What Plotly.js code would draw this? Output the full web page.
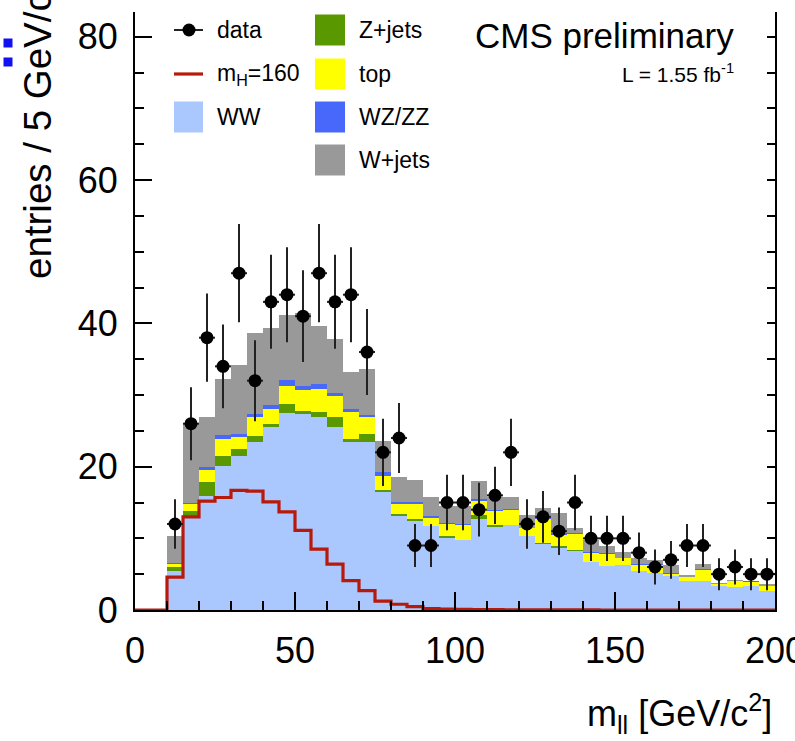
<!DOCTYPE html>
<html><head><meta charset="utf-8">
<script src="https://cdn.plot.ly/plotly-3.0.1.min.js"></script>
<style>html,body{margin:0;padding:0;background:#fff}#chart{width:795px;height:741px}</style>
</head><body><div id="chart"></div>
<script>
// ---- data (5 GeV bins, lower edges) ----
const binWidth = 5;
const binLow = [0,5,10,15,20,25,30,35,40,45,50,55,60,65,70,75,80,85,90,95,100,105,110,115,120,125,130,135,140,145,150,155,160,165,170,175,180,185,190,195];
const ww    = [0,0,5.4,13.1,15.9,20.1,21.5,23.5,25.6,27.5,27.3,26.9,25.5,23.4,23.4,16.4,13.1,12.4,11.7,10.1,9.7,12.7,11.6,11.8,10.3,9.2,8.7,8.3,6.7,6.1,6.3,5.5,5.1,4.7,4.05,4.1,3.35,3.2,3.35,2.6];
const zjets = [0,0,0.6,0.7,1.9,1.4,0.9,0.8,0.4,1.2,0.5,0.7,1.4,0.4,1.2,0.4,0.3,0.3,0,0.2,0,0.5,0.3,0.1,0,0.2,0.2,0.1,0,0,0,0,0,0,0,0,0,0.05,0,0];
const ttbar = [0,0,0.4,1.0,1.8,2.3,1.7,2.6,2.1,2.6,2.9,3.3,3.0,3.8,2.3,1.9,1.4,2.1,1.2,1.7,2.2,2.0,1.9,2.0,1.1,3.3,1.6,2.2,1.3,1.7,0.9,0.8,1.2,0.3,0.5,1.5,0.25,0.75,0.6,0.7];
const wzzz  = [0,0,0.1,0.2,0.4,0.6,0.5,0.4,0.5,0.8,0.6,0.7,0.4,0.4,0.3,0.5,0.3,0.3,0.2,0.2,0.15,0.3,0.2,0.2,0.1,0.2,0.2,0.2,0.1,0.1,0.1,0.1,0.1,0.1,0.05,0.1,0.05,0.1,0.05,0.05];
const wjets = [0,0,3.8,10.9,7.0,7.8,9.6,11.3,10.7,9.0,10.2,8.1,7.5,5.2,6.4,4.4,3.5,3.0,2.6,2.3,2.45,2.5,1.8,1.7,1.7,1.3,2.9,0.6,1.6,1.0,0.8,0.9,0.6,1.2,0.3,0.7,0.15,0.1,0.05,0.25];
const higgs = [0,0,4.6,13.0,15.2,15.7,16.7,16.6,15.1,13.7,11.1,8.5,6.4,4.1,2.7,1.25,0.8,0.47,0.2,0.12,0.08,0.05,0.04,0.03,0.02,0.02,0.01,0.01,0.01,0,0,0,0,0,0,0,0,0,0,0];
const dataCounts = [0,0,12,26,38,34,47,32,43,44,41,47,43,44,36,22,24,9,9,15,15,14,16,22,12,13,11,15,10,10,10,8,6,7,9,9,5,6,5,5];

const xTicks = [0,50,100,150,200];
const yTicks = [0,20,40,60,80];

const names  = {data:'data', higgs:'m<sub>H</sub>=160', ww:'WW', zjets:'Z+jets', ttbar:'top', wzzz:'WZ/ZZ', wjets:'W+jets'};
const colors = {ww:'#aac8fd', zjets:'#5a9800', ttbar:'#ffff00', wzzz:'#4868fc', wjets:'#999999', higgs:'#b8190a', data:'#000000'};

// ---- geometry helpers ----
const FONT = 'Liberation Sans, Arial, sans-serif';
const L = 135, R = 775, T = 12, B = 610, W = 795, Hh = 741;
const PW = R - L, PH = B - T;
const px = x => (x - L) / PW;
const py = y => (B - y) / PH;
const yMax = 83.45;

const centers = binLow.map(v => v + binWidth / 2);

function barTrace(key, vals) {
  return {type:'bar', x:centers, y:vals, width:binWidth, name:names[key],
    marker:{color:colors[key], line:{width:0}}, showlegend:false, hoverinfo:'skip'};
}

const traces = [
  barTrace('ww', ww),
  barTrace('zjets', zjets),
  barTrace('ttbar', ttbar),
  barTrace('wzzz', wzzz),
  barTrace('wjets', wjets)
];

// Higgs step line
const hx = binLow.concat([binLow[binLow.length-1] + binWidth]);
const hy = higgs.concat([higgs[higgs.length-1]]);
traces.push({type:'scatter', mode:'lines', x:hx, y:hy, line:{shape:'hv', color:colors.higgs, width:3.2},
  name:names.higgs, showlegend:false, hoverinfo:'skip'});

// data points (non-empty bins)
const dIdx = dataCounts.map((v,i)=>i).filter(i => dataCounts[i] > 0);
traces.push({type:'scatter', mode:'markers', x:dIdx.map(i=>centers[i]), y:dIdx.map(i=>dataCounts[i]),
  marker:{color:'#000', size:13},
  error_y:{type:'data', array:dIdx.map(i=>Math.sqrt(dataCounts[i])), color:'#222', thickness:2, width:0},
  error_x:{type:'constant', value:binWidth/2, color:'#222', thickness:2, width:0},
  name:names.data, showlegend:false, hoverinfo:'skip'});

// helper trace for right mirrored axis
traces.push({type:'scatter', mode:'markers', x:[null], y:[null], yaxis:'y2', showlegend:false, hoverinfo:'skip'});

// ---- manual legend ----
const shapes = [], annotations = [];
const col1Sw = [174, 203], col2Sw = [315, 345];
const rows = [30, 74, 117, 160];
function swatch(col, row, key) {
  shapes.push({type:'rect', xref:'paper', yref:'paper', x0:px(col[0]), x1:px(col[1]),
    y0:py(rows[row]+15.5), y1:py(rows[row]-15.5), fillcolor:colors[key], line:{width:0}});
}
function legText(col, row, key) {
  annotations.push({xref:'paper', yref:'paper', x:px(col[1]+12), y:py(rows[row]), xanchor:'left', yanchor:'middle',
    text:names[key], showarrow:false, font:{family:FONT, size:23, color:'#000'}});
}
// data symbol
shapes.push({type:'line', xref:'paper', yref:'paper', x0:px(174), x1:px(203), y0:py(rows[0]), y1:py(rows[0]), line:{color:'#222', width:2}});
shapes.push({type:'circle', xref:'paper', yref:'paper', x0:px(189-6.5), x1:px(189+6.5), y0:py(rows[0]+6.5), y1:py(rows[0]-6.5), fillcolor:'#000', line:{width:0}});
legText(col1Sw, 0, 'data');
shapes.push({type:'line', xref:'paper', yref:'paper', x0:px(174), x1:px(203), y0:py(rows[1]), y1:py(rows[1]), line:{color:colors.higgs, width:3.2}});
legText(col1Sw, 1, 'higgs');
swatch(col1Sw, 2, 'ww'); legText(col1Sw, 2, 'ww');
swatch(col2Sw, 0, 'zjets'); legText(col2Sw, 0, 'zjets');
swatch(col2Sw, 1, 'ttbar'); legText(col2Sw, 1, 'ttbar');
swatch(col2Sw, 2, 'wzzz'); legText(col2Sw, 2, 'wzzz');
swatch(col2Sw, 3, 'wjets'); legText(col2Sw, 3, 'wjets');

// stray blue marks at top-left (as in reference)
shapes.push({type:'rect', xref:'paper', yref:'paper', x0:px(3.5), x1:px(12.5), y0:py(47.5), y1:py(38.5), fillcolor:'#1010f0', line:{width:0}});
shapes.push({type:'rect', xref:'paper', yref:'paper', x0:px(3.5), x1:px(12.5), y0:py(66.5), y1:py(57.5), fillcolor:'#1010f0', line:{width:0}});

// texts
annotations.push({xref:'paper', yref:'paper', x:px(736), y:py(36), xanchor:'right', yanchor:'middle',
  text:'CMS preliminary', showarrow:false, font:{family:FONT, size:35, color:'#000'}});
annotations.push({xref:'paper', yref:'paper', x:px(736), y:py(73), xanchor:'right', yanchor:'middle',
  text:'L = 1.55 fb<sup>-1</sup>', showarrow:false, font:{family:FONT, size:21, color:'#000'}});
annotations.push({xref:'paper', yref:'paper', x:px(774), y:py(714), xanchor:'right', yanchor:'middle',
  text:'m<sub>ll</sub> [GeV/c<sup>2</sup>]', showarrow:false, font:{family:FONT, size:36, color:'#000'}});
annotations.push({xref:'paper', yref:'paper', x:px(35), y:py(281), xanchor:'center', yanchor:'bottom', textangle:-90,
  text:'entries / 5 GeV/c<sup>2</sup>', showarrow:false, font:{family:FONT, size:38.5, color:'#000'}});

const layout = {
  width:W, height:Hh,
  margin:{l:L, r:W-R, t:T, b:Hh-B, pad:0},
  paper_bgcolor:'#fff', plot_bgcolor:'#fff',
  barmode:'stack', bargap:0, hovermode:false, showlegend:false,
  font:{family:FONT, color:'#000'},
  xaxis:{range:[0,200], tickvals:xTicks, ticktext:xTicks.map(String), ticks:'inside', ticklen:18, tickwidth:2, tickcolor:'#000',
    minor:{dtick:10, ticks:'inside', ticklen:9, tickwidth:2, tickcolor:'#000'},
    showline:true, linewidth:2, linecolor:'#000', mirror:false, showgrid:false, zeroline:false,
    ticklabeloverflow:'allow',
    tickfont:{family:FONT, size:36, color:'#000'}, ticklabelstandoff:8},
  yaxis:{range:[0,yMax], tickvals:yTicks, ticktext:yTicks.map(String), ticks:'inside', ticklen:17, tickwidth:2, tickcolor:'#000',
    minor:{dtick:5, ticks:'inside', ticklen:9, tickwidth:2, tickcolor:'#000'},
    showline:true, linewidth:2, linecolor:'#000', showgrid:false, zeroline:false,
    ticklabeloverflow:'allow',
    tickfont:{family:FONT, size:36, color:'#000'}, ticklabelstandoff:8},
  yaxis2:{range:[0,yMax], overlaying:'y', side:'right', dtick:5, tick0:0, ticks:'inside', ticklen:8, tickwidth:2, tickcolor:'#000',
    showticklabels:false, showline:true, linewidth:2, linecolor:'#000', showgrid:false, zeroline:false},
  shapes:shapes, annotations:annotations
};

Plotly.newPlot('chart', traces, layout, {staticPlot:true, displayModeBar:false});
</script></body></html>
